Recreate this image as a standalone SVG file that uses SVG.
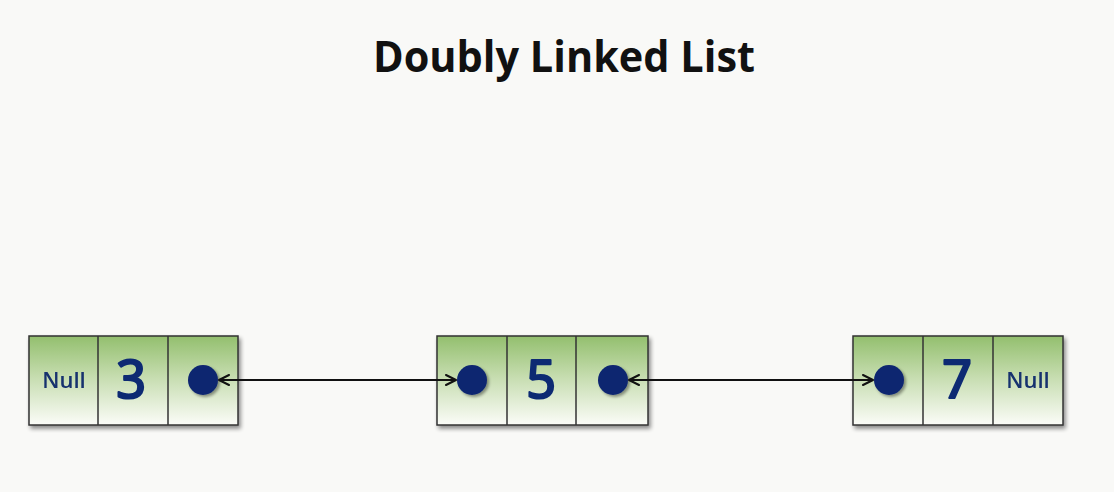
<svg xmlns="http://www.w3.org/2000/svg" width="1114" height="492" viewBox="0 0 1114 492">
<defs>
<linearGradient id="cell" x1="0" y1="0" x2="0" y2="1">
<stop offset="0" stop-color="#93bf6e"/>
<stop offset="0.45" stop-color="#c5dcae"/>
<stop offset="1" stop-color="#fbfcf8"/>
</linearGradient>
<filter id="sh" x="-10%" y="-10%" width="125%" height="140%">
<feGaussianBlur in="SourceAlpha" stdDeviation="2"/>
<feOffset dx="2" dy="3"/>
<feComponentTransfer><feFuncA type="linear" slope="0.45"/></feComponentTransfer>
<feMerge><feMergeNode/><feMergeNode in="SourceGraphic"/></feMerge>
</filter>
<filter id="dsh" x="-30%" y="-30%" width="170%" height="170%">
<feGaussianBlur in="SourceAlpha" stdDeviation="1.5"/>
<feOffset dx="1.5" dy="2"/>
<feComponentTransfer><feFuncA type="linear" slope="0.4"/></feComponentTransfer>
<feMerge><feMergeNode/><feMergeNode in="SourceGraphic"/></feMerge>
</filter>
<marker id="ah" viewBox="0 0 12 12" refX="11" refY="6" markerWidth="12" markerHeight="12" markerUnits="userSpaceOnUse" orient="auto-start-reverse">
<path d="M1,1 L11,6 L1,11" fill="none" stroke="#111" stroke-width="2" stroke-linecap="round" stroke-linejoin="round"/>
</marker>
</defs>
<style>
.box{fill:url(#cell);stroke:#333;stroke-width:1.5}
.div{stroke:#333;stroke-width:1.5}
.dot{fill:#0b2570;filter:url(#dsh)}
.num{font-family:"Comic Sans MS","Noto Sans",sans-serif;font-size:52px;fill:#0b2a73;stroke:#0b2a73;stroke-width:2.2;stroke-linejoin:round;text-anchor:middle}
.null{font-family:"Open Sans","Liberation Sans",sans-serif;font-size:22px;font-weight:600;fill:#16306e;text-anchor:middle}
.link{stroke:#111;stroke-width:2;fill:none}
</style>
<rect width="1114" height="492" fill="#f9f9f7"/>
<text x="564" y="72" font-family="'Open Sans','Liberation Sans',sans-serif" font-weight="bold" font-size="43" text-anchor="middle" fill="#111" textLength="382" lengthAdjust="spacingAndGlyphs">Doubly Linked List</text>

<g id="node1" filter="url(#sh)">
<rect class="box" x="29" y="336" width="209" height="89"/>
<line class="div" x1="98" y1="336" x2="98" y2="425"/>
<line class="div" x1="168" y1="336" x2="168" y2="425"/>
<text class="null" x="64" y="388">Null</text>
<text class="num" x="131" y="398">3</text>
<circle class="dot" cx="203" cy="380" r="15"/>
</g>

<g id="node2" filter="url(#sh)">
<rect class="box" x="437" y="336" width="211" height="89"/>
<line class="div" x1="507" y1="336" x2="507" y2="425"/>
<line class="div" x1="576" y1="336" x2="576" y2="425"/>
<circle class="dot" cx="472" cy="380" r="15"/>
<text class="num" x="541" y="398">5</text>
<circle class="dot" cx="613" cy="380" r="15"/>
</g>

<g id="node3" filter="url(#sh)">
<rect class="box" x="853" y="336" width="210" height="89"/>
<line class="div" x1="923" y1="336" x2="923" y2="425"/>
<line class="div" x1="993" y1="336" x2="993" y2="425"/>
<circle class="dot" cx="889" cy="380" r="15"/>
<text class="num" x="957" y="398">7</text>
<text class="null" x="1028" y="388">Null</text>
</g>

<g id="connectors">
<line class="link" x1="219" y1="380" x2="456" y2="380" marker-start="url(#ah)" marker-end="url(#ah)"/>
<line class="link" x1="629" y1="380" x2="873" y2="380" marker-start="url(#ah)" marker-end="url(#ah)"/>
</g>
</svg>
